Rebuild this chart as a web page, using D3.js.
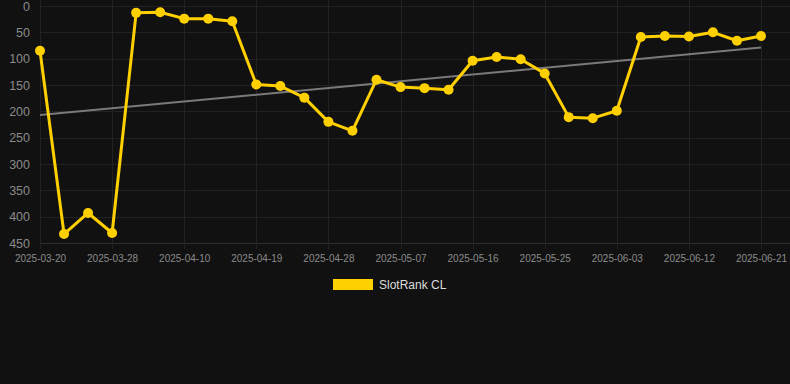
<!DOCTYPE html>
<html><head><meta charset="utf-8">
<script src="https://cdn.jsdelivr.net/npm/d3@7"></script>
<style>
html,body{margin:0;padding:0;background:#111111;}
svg{display:block;font-family:Arial,"Liberation Sans",Helvetica,sans-serif;}
</style></head>
<body>
<script>
const dates = ["2025-03-20","2025-03-23","2025-03-25","2025-03-28","2025-03-31","2025-04-04","2025-04-10","2025-04-13","2025-04-16","2025-04-19","2025-04-22","2025-04-25","2025-04-28","2025-05-01","2025-05-04","2025-05-07","2025-05-10","2025-05-13","2025-05-16","2025-05-19","2025-05-22","2025-05-25","2025-05-28","2025-05-31","2025-06-03","2025-06-06","2025-06-09","2025-06-12","2025-06-15","2025-06-18","2025-06-21"];
const ranks = [85,433,393,431,13,12,24,24,29,149,152,174,220,237,140,154,156,159,104,97,101,128,211,213,199,59,57,58,50,66,57];
const trend = [207,79];
const yTicks = [0,50,100,150,200,250,300,350,400,450];
const seriesName = "SlotRank CL";

(function(){
const W=790,H=384;
const pLeft=40, pRight=761, plotRight=790, pTop=6, pBottom=243;
const svg=d3.select("body").append("svg").attr("width",W).attr("height",H);
svg.append("rect").attr("width",W).attr("height",H).attr("fill","#111111");

const x=d3.scalePoint().domain(dates).range([pLeft,pRight]);
const y=d3.scaleLinear().domain([0,450]).range([pTop,pBottom]);

// horizontal grid
svg.append("g").selectAll("line").data(yTicks).join("line")
  .attr("x1",pLeft).attr("x2",plotRight)
  .attr("y1",d=>Math.round(y(d))+0.5).attr("y2",d=>Math.round(y(d))+0.5)
  .attr("stroke",d=>d===450?"#2e2e2e":"#222222").attr("stroke-width",1);
// vertical grid
const xTickDates = dates.filter((d,i)=>i%3===0);
svg.append("g").selectAll("line").data(xTickDates).join("line")
  .attr("x1",d=>Math.round(x(d))+0.5).attr("x2",d=>Math.round(x(d))+0.5)
  .attr("y1",0).attr("y2",pBottom+6)
  .attr("stroke","#222222").attr("stroke-width",1);

// y axis labels
const yAxis=d3.axisLeft(y).tickValues(yTicks).tickSize(0).tickPadding(0);
const gy=svg.append("g").attr("transform",`translate(30,0)`).call(yAxis);
gy.select(".domain").remove();
gy.selectAll("text").attr("fill","#8a8a8a").attr("font-size",12.5).attr("font-family","Arial,'Liberation Sans',sans-serif");

// x axis labels
const xAxis=d3.axisBottom(x).tickValues(xTickDates).tickSize(0).tickPadding(0);
const gx=svg.append("g").attr("transform",`translate(0,${pBottom+16})`).call(xAxis);
gx.select(".domain").remove();
gx.selectAll("text").attr("fill","#8a8a8a").attr("font-size",10).attr("dy","0.32em").attr("font-family","Arial,'Liberation Sans',sans-serif");

// trend line
svg.append("line")
  .attr("x1",x(dates[0])).attr("y1",y(trend[0]))
  .attr("x2",x(dates[dates.length-1])).attr("y2",y(trend[1]))
  .attr("stroke","#7a7a7a").attr("stroke-width",2);

// series line
const line=d3.line().x((d,i)=>x(dates[i])).y(d=>y(d));
svg.append("path").datum(ranks).attr("d",line)
  .attr("fill","none").attr("stroke","#FFD000").attr("stroke-width",3).attr("stroke-linejoin","round");
svg.append("g").selectAll("circle").data(ranks).join("circle")
  .attr("cx",(d,i)=>x(dates[i])).attr("cy",d=>y(d)).attr("r",5)
  .attr("fill","#FFD000");

// legend
const lg=svg.append("g");
lg.append("rect").attr("x",333).attr("y",279).attr("width",40).attr("height",11).attr("fill","#FFD000");
lg.append("text").attr("x",379).attr("y",285).attr("dy","0.35em").attr("fill","#dddddd")
  .attr("font-size",12).text(seriesName);
})();
</script>
</body></html>
